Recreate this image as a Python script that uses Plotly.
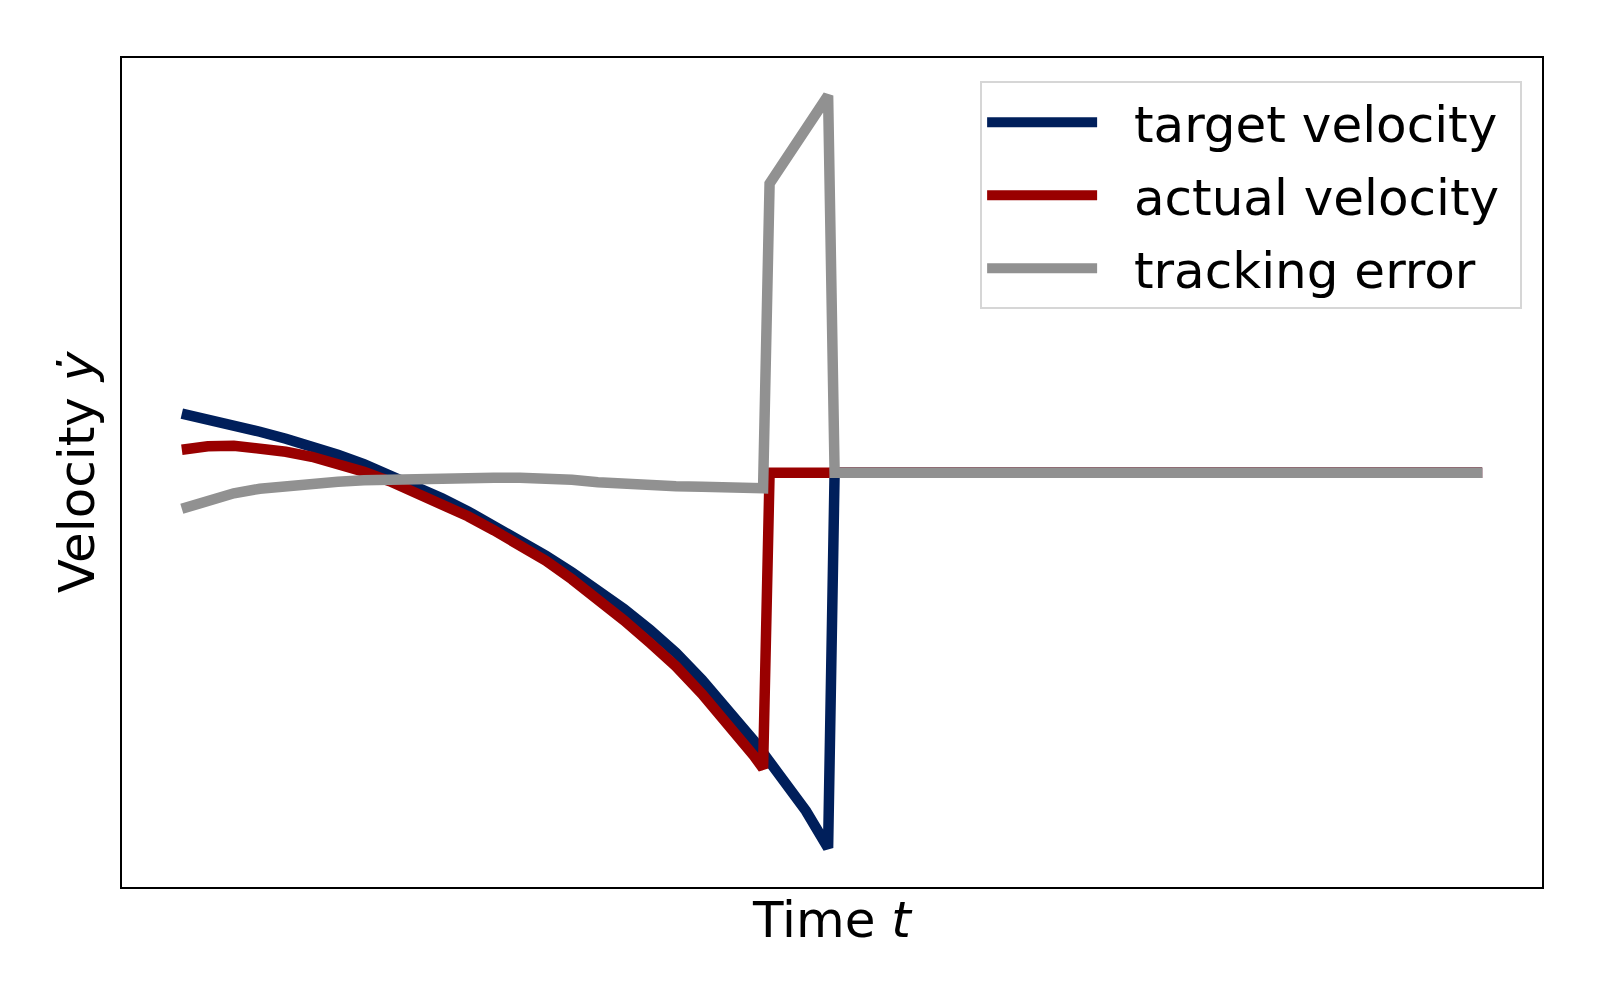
import plotly.graph_objects as go

# ---- data ----
t_target = [0.0, 0.2, 0.4, 0.6, 0.8, 1.0, 1.2, 1.4, 1.6, 1.8, 2.0, 2.2, 2.4, 2.6, 2.8, 3.0,
            3.2, 3.4, 3.6, 3.8, 4.0, 4.2, 4.4, 4.47, 4.52, 4.6, 4.8, 4.97, 5.02, 10.0]
v_target = [0.59, 0.535, 0.475, 0.41, 0.34, 0.265, 0.18, 0.085, -0.02, -0.135, -0.255,
            -0.385, -0.525, -0.675, -0.83, -0.995, -1.17, -1.36, -1.57, -1.80, -2.07,
            -2.36, -2.68, -2.80, -2.89, -3.03, -3.38, -3.75, 0.0, 0.0]

t_actual = [0.0, 0.2, 0.4, 0.6, 0.8, 1.0, 1.2, 1.4, 1.6, 1.8, 2.0, 2.2, 2.4, 2.6, 2.8, 3.0,
            3.2, 3.4, 3.6, 3.8, 4.0, 4.2, 4.4, 4.47, 4.52, 10.0]
v_actual = [0.23, 0.265, 0.27, 0.25, 0.21, 0.16, 0.09, 0.01, -0.085, -0.195, -0.31, -0.435,
            -0.575, -0.725, -0.88, -1.065, -1.265, -1.475, -1.70, -1.935, -2.21, -2.505,
            -2.83, -2.955, 0.0, 0.0]

t_error = [0.0, 0.2, 0.4, 0.6, 0.8, 1.0, 1.2, 1.4, 1.6, 1.8, 2.0, 2.2, 2.4, 2.6, 2.8, 3.0,
           3.2, 3.4, 3.6, 3.8, 4.0, 4.2, 4.4, 4.47, 4.52, 4.97, 5.02, 10.0]
v_error = [-0.36, -0.27, -0.205, -0.16, -0.13, -0.105, -0.09, -0.075, -0.065, -0.06, -0.055,
           -0.05, -0.05, -0.05, -0.05, -0.07, -0.095, -0.115, -0.13, -0.135, -0.14, -0.145,
           -0.15, -0.155, 2.89, 3.77, 0.0, 0.0]

series_names = ["target velocity", "actual velocity", "tracking error"]
series_colors = ["#001f5b", "#990000", "#919191"]

FONT = "DejaVu Sans"
NB = "\u00a0\u00a0"  # gap between legend line sample and label
TAIL = "\u00a0"      # right padding inside the legend box

fig = go.Figure()
for (tx, vy), name, col in zip([(t_target, v_target), (t_actual, v_actual), (t_error, v_error)],
                               series_names, series_colors):
    fig.add_trace(go.Scatter(x=tx, y=vy, mode="lines", name=NB + name + TAIL,
                             legendgroup=name, line=dict(color=col, width=10.5)))

axis_common = dict(showgrid=False, zeroline=False, showticklabels=False, ticks="",
                   showline=True, linecolor="black", linewidth=2, mirror=True,
                   automargin=False)

fig.update_layout(
    template="none",
    width=1584, height=984,
    margin=dict(l=114, r=50, t=50, b=105),
    paper_bgcolor="white", plot_bgcolor="white",
    font=dict(family=FONT, size=50, color="black"),
    xaxis=dict(range=[-0.46, 10.46],
               title=dict(text="Time <i>t</i>", standoff=14, font=dict(size=50)),
               **axis_common),
    yaxis=dict(range=[-4.14, 4.145],
               title=dict(text="Velocity <i>ẏ</i>", standoff=10, font=dict(size=50)),
               **axis_common),
    legend=dict(x=0.986, y=0.972, xanchor="right", yanchor="top",
                bgcolor="rgba(255,255,255,0.8)", bordercolor="#d6d6d6", borderwidth=2,
                font=dict(family=FONT, size=50), itemwidth=110, tracegroupgap=5),
    showlegend=True,
)

fig.write_html("out.html")
